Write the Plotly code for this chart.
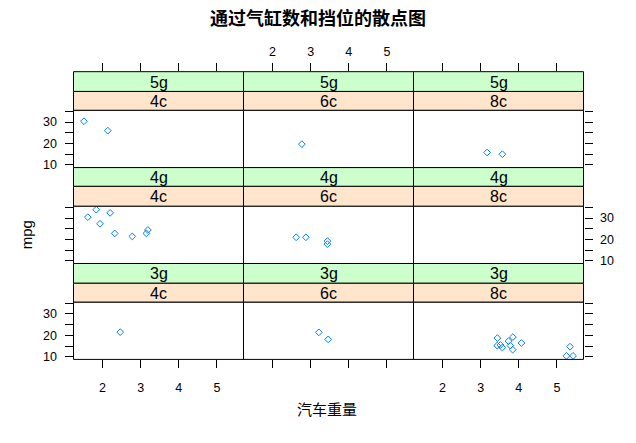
import plotly.graph_objects as go

# ---------------- data (mtcars subset) ----------------
wt = [2.620, 2.875, 2.320, 3.215, 3.440, 3.460, 3.570, 3.190, 3.150, 3.440, 3.440,
      4.070, 3.730, 3.780, 5.250, 5.424, 5.345, 2.200, 1.615, 1.835, 2.465, 3.520,
      3.435, 3.840, 3.845, 1.935, 2.140, 1.513, 3.170, 2.770, 3.570, 2.780]
mpg = [21.0, 21.0, 22.8, 21.4, 18.7, 18.1, 14.3, 24.4, 22.8, 19.2, 17.8,
       16.4, 17.3, 15.2, 10.4, 10.4, 14.7, 32.4, 30.4, 33.9, 21.5, 15.5,
       15.2, 13.3, 19.2, 27.3, 26.0, 30.4, 15.8, 19.7, 15.0, 21.4]
cyl = [6, 6, 4, 6, 8, 6, 8, 4, 4, 6, 6, 8, 8, 8, 8, 8, 8, 4, 4, 4, 4, 8,
       8, 8, 8, 4, 4, 4, 8, 6, 8, 4]
gear = [4, 4, 4, 3, 3, 3, 3, 4, 4, 4, 4, 3, 3, 3, 3, 3, 3, 4, 4, 4, 3, 3,
        3, 3, 3, 4, 5, 5, 5, 5, 5, 4]

cyl_levels = [4, 6, 8]          # columns
gear_levels = [5, 4, 3]         # rows, top to bottom
cyl_labels = ["4c", "6c", "8c"]
gear_labels = ["5g", "4g", "3g"]
x_ticks = [2, 3, 4, 5]
y_ticks = [10, 15, 20, 25, 30, 35]
y_ticktext = ["10", "", "20", "", "30", ""]

title = "通过气缸数和挡位的散点图"
xlab = "汽车重量"
ylab = "mpg"

# ---------------- layout geometry (pixels) ----------------
W, H = 636, 443
col_x = [73.5, 243.5, 413.5, 583.5]
row_top = 72.5
row_h = 97.0
strip_h = 19.5

# lattice-style 7% padding of data range
pad = 0.07
xr = [min(wt) - pad * (max(wt) - min(wt)), max(wt) + pad * (max(wt) - min(wt))]
ylo = min(mpg) - pad * (max(mpg) - min(mpg))
yhi = max(mpg) + pad * (max(mpg) - min(mpg))

FONT = "Liberation Sans, Arial, sans-serif"
BLUE = "#0080ff"
GREEN = "#CCFFCC"
PEACH = "#FFE5CC"
TICKLEN = 8

fig = go.Figure()
layout = dict(width=W, height=H, margin=dict(l=0, r=0, t=0, b=0),
              paper_bgcolor="white", plot_bgcolor="white", showlegend=False,
              font=dict(family=FONT, size=12, color="black"))
shapes = []
annotations = []


def py(p):
    return 1 - p / H


def snap(p):
    return round(p - 0.5) + 0.5


for r, g in enumerate(gear_levels):
    for c, cy in enumerate(cyl_levels):
        k = r * 3 + c + 1
        xs = [w for w, cc, gg in zip(wt, cyl, gear) if cc == cy and gg == g]
        ys = [m for m, cc, gg in zip(mpg, cyl, gear) if cc == cy and gg == g]
        fig.add_trace(go.Scatter(
            x=xs, y=ys, mode="markers",
            marker=dict(symbol="diamond-open", size=5.2, color=BLUE,
                        line=dict(width=1, color=BLUE)),
            xaxis="x%d" % k, yaxis="y%d" % k, hoverinfo="x+y"))

        top = snap(row_top + r * row_h)
        bot = snap(row_top + (r + 1) * row_h)
        ptop = snap(top + 2 * strip_h)
        x0, x1 = col_x[c], col_x[c + 1]
        ymax_cell = yhi + (ptop - top) * (yhi - ylo) / (bot - ptop)

        # x axis
        xa = dict(domain=[x0 / W, x1 / W], anchor="y%d" % k, range=xr,
                  showgrid=False, zeroline=False, showline=False,
                  tickvals=x_ticks, tickcolor="black", tickwidth=1,
                  tickfont=dict(family=FONT, size=12.5, color="black"),
                  ticklen=TICKLEN)
        if r == 0:
            xa.update(side="top", ticks="outside", showticklabels=(c == 1),
                      ticklabelstandoff=2)
        elif r == 2:
            xa.update(side="bottom", ticks="outside", showticklabels=(c != 1),
                      ticklabelstandoff=9)
        else:
            xa.update(ticks="", showticklabels=False)

        # y axis
        ya = dict(domain=[py(bot), py(top)], anchor="x%d" % k,
                  range=[ylo, ymax_cell], showgrid=False, zeroline=False,
                  showline=False, tickvals=y_ticks, ticktext=y_ticktext,
                  tickcolor="black", tickwidth=1,
                  tickfont=dict(family=FONT, size=12.5, color="black"),
                  ticklen=TICKLEN, ticklabelstandoff=5)
        if c == 0:
            ya.update(side="left", ticks="outside", showticklabels=(r != 1))
        elif c == 2:
            ya.update(side="right", ticks="outside", showticklabels=(r == 1))
        else:
            ya.update(ticks="", showticklabels=False)

        layout["xaxis" if k == 1 else "xaxis%d" % k] = xa
        layout["yaxis" if k == 1 else "yaxis%d" % k] = ya

        # panel frame
        shapes.append(dict(type="rect", xref="paper", yref="paper",
                           x0=x0 / W, x1=x1 / W, y0=py(bot), y1=py(ptop),
                           line=dict(color="black", width=1), layer="above"))
        # strips
        edges = [top, snap(top + strip_h), ptop]
        for s, (fill, txt) in enumerate([(GREEN, gear_labels[r]), (PEACH, cyl_labels[c])]):
            s0, s1 = edges[s], edges[s + 1]
            shapes.append(dict(type="rect", xref="paper", yref="paper",
                               x0=x0 / W, x1=x1 / W, y0=py(s1), y1=py(s0),
                               fillcolor=fill, line=dict(color="black", width=1),
                               layer="above"))
            annotations.append(dict(text=txt, xref="paper", yref="paper",
                                    x=(x0 + x1) / 2 / W, y=py((s0 + s1) / 2 + 0.5),
                                    showarrow=False, xanchor="center", yanchor="middle",
                                    font=dict(family=FONT, size=16, color="black")))

annotations.append(dict(text="<b>%s</b>" % title, xref="paper", yref="paper",
                        x=317.5 / W, y=py(17.5), showarrow=False,
                        xanchor="center", yanchor="middle",
                        font=dict(family="Noto Sans CJK SC", size=18, color="black")))
annotations.append(dict(text=xlab, xref="paper", yref="paper",
                        x=327 / W, y=py(413), showarrow=False,
                        xanchor="center", yanchor="middle",
                        font=dict(family="Noto Sans CJK SC", size=15, color="black")))
annotations.append(dict(text=ylab, xref="paper", yref="paper",
                        x=26 / W, y=py(238), showarrow=False, textangle=-90,
                        xanchor="center", yanchor="middle",
                        font=dict(family=FONT, size=15, color="black")))

layout["shapes"] = shapes
layout["annotations"] = annotations
fig.update_layout(**layout)
fig.write_html("out.html")
